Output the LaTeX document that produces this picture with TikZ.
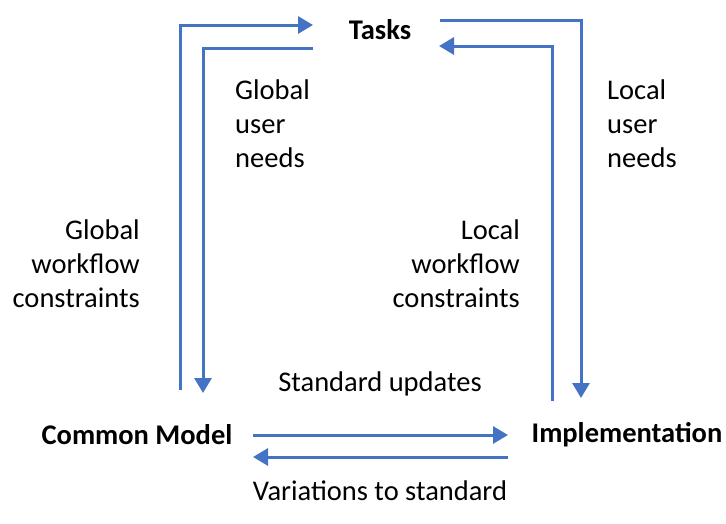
\documentclass[tikz,border=0pt]{standalone}
\usepackage{fontspec}
\setmainfont{Carlito}
\usetikzlibrary{arrows.meta,positioning}
\definecolor{flowblue}{RGB}{68,114,196}
\newcommand{\picfont}{\fontsize{28.5}{34}\selectfont}
\tikzset{flow/.style={draw=flowblue,line width=3pt,-{Triangle[length=15pt,width=17pt]}},
    boxlabel/.style={font=\picfont\bfseries,inner sep=0},
    sidelabel/.style={font=\picfont,align=left,inner sep=0},
    rightlabel/.style={font=\picfont,align=right,inner sep=0},
    midlabel/.style={font=\picfont,align=center,inner sep=0}
}

\begin{document}
\begin{tikzpicture}[x=1pt,y=-1pt]

\useasboundingbox (0,0) rectangle (726,523);

\node (tasks) [boxlabel] at (380,30) {Tasks};
\node (model) [boxlabel] at (137,435) {Common Model};
\node (impl) [boxlabel] at (627,435) {Implementation};

% corners of the elbow arrows
\coordinate (glOut) at (180,390);
\coordinate (glTop) at (180,25);
\coordinate (glEnd) at (313,25);
\coordinate (guStart) at (313,48);
\coordinate (guTop) at (203,48);
\coordinate (guEnd) at (203,393);
\coordinate (luStart) at (440,20);
\coordinate (luTop) at (581,20);
\coordinate (luEnd) at (581,398);
\coordinate (lwStart) at (552,401);
\coordinate (lwTop) at (552,46);
\coordinate (lwEnd) at (439,46);
\coordinate (suStart) at (253,435);
\coordinate (suEnd) at (508,435);
\coordinate (vsStart) at (508,457);
\coordinate (vsEnd) at (253,457);

\draw [flow] (glOut) -- (glTop) -- (glEnd);
\draw [flow] (guStart) -- (guTop) -- (guEnd);
\draw [flow] (luStart) -- (luTop) -- (luEnd);
\draw [flow] (lwStart) -- (lwTop) -- (lwEnd);
\draw [flow] (suStart) -- (suEnd);
\draw [flow] (vsStart) -- (vsEnd);

\node (globalNeeds) [sidelabel,anchor=north west] at (235,80) {Global\\user\\needs};
\node (localNeeds) [sidelabel,anchor=north west] at (607,80) {Local\\user\\needs};
\node (globalFlow) [rightlabel,anchor=north east] at (140,220) {Global\\workflow\\constraints};
\node (localFlow) [rightlabel,anchor=north east] at (520,220) {Local\\workflow\\constraints};
\node (stdUpdates) [midlabel] at (380,384) {Standard updates};
\node (variations) [midlabel] at (380,491) {Variations to standard};

\end{tikzpicture}
\end{document}
